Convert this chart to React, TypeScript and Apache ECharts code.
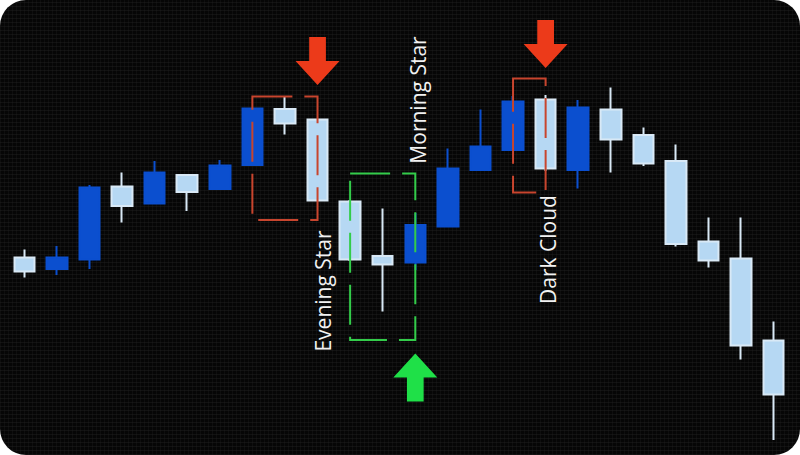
import React, { useEffect, useRef } from "react";
import * as echarts from "echarts";

// ---- Data ----
const categories = [
  "1", "2", "3", "4", "5", "6", "7", "8", "9", "10", "11", "12",
  "13", "14", "15", "16", "17", "18", "19", "20", "21", "22", "23", "24",
];
const opens = [139.5, 137.2, 139.1, 153.7, 150.3, 156.0, 153.2, 158.0, 169.2, 167.1, 150.7, 139.8,
  138.5, 145.7, 157.0, 161.0, 171.1, 157.0, 169.1, 164.0, 158.8, 142.7, 139.3, 122.9];
const closes = [136.7, 139.5, 153.5, 149.8, 156.5, 152.6, 157.9, 169.3, 166.3, 150.9, 139.1, 138.1,
  146.0, 157.3, 161.7, 170.7, 157.3, 169.5, 163.1, 158.3, 142.2, 138.9, 121.9, 112.1];
const lows = [135.5, 136.0, 137.2, 146.5, 150.3, 148.8, 153.2, 157.8, 164.1, 150.7, 138.8, 128.7,
  137.0, 145.5, 157.0, 160.8, 156.8, 153.3, 156.5, 157.8, 141.7, 137.5, 119.1, 103.0];
const highs = [141.1, 141.8, 154.0, 156.5, 158.8, 156.0, 159.0, 169.5, 171.7, 167.3, 151.0, 149.3,
  148.4, 161.3, 169.1, 171.8, 172.0, 171.0, 173.5, 165.5, 162.1, 147.5, 147.5, 126.7];

// Pattern boxes: [from category index, to category index, top price, bottom price]
const boxFrom = [7, 10, 15];
const boxTo = [9, 12, 16];
const boxTop = [171.7, 156.3, 175.3];
const boxBottom = [147.0, 123.0, 152.5];
const boxKind = ["bear", "bull", "bear"];

// Arrows: category index, centre price, direction
const arrowCat = [9, 12, 16];
const arrowPrice = [178.8, 115.5, 182.2];
const arrowDir = ["down", "up", "down"];

// Pattern names
const labelTexts = ["Evening Star", "Morning Star", "Dark Cloud"];
const labelCat = [9, 12, 16];
const labelPrice = [132.8, 171.0, 141.1];

const Y_MIN = 100;
const Y_MAX = 191;

export default function App() {
  const ref = useRef<HTMLDivElement>(null);

  useEffect(() => {
    if (!ref.current) return;
    const chart = echarts.init(ref.current, undefined, { renderer: "svg" });

    const candleData = categories.map((_, i) => [opens[i], closes[i], lows[i], highs[i]]);
    const boxData = boxFrom.map((f, i) => [f, boxTo[i], boxTop[i], boxBottom[i]]);
    const arrowData = arrowCat.map((c, i) => [c, arrowPrice[i]]);
    const labelData = labelCat.map((c, i) => [c, labelPrice[i]]);

    const downPath = "M31,0 L69,0 L69,50 L100,50 L50,100 L0,50 L31,50 Z";
    const upPath = "M50,0 L100,50 L69,50 L69,100 L31,100 L31,50 L0,50 Z";
    const labelDx = [5, 3, 2];

    chart.setOption({
      animation: false,
      backgroundColor: "transparent",
      grid: { left: 8, right: 10, top: 0, bottom: 0 },
      xAxis: {
        type: "category",
        data: categories,
        show: false,
        boundaryGap: true,
      },
      yAxis: {
        type: "value",
        min: Y_MIN,
        max: Y_MAX,
        show: false,
        splitLine: { show: false },
      },
      series: [
        {
          type: "candlestick",
          data: candleData,
          barWidth: 21,
          z: 2,
          itemStyle: {
            color: "#0b4fcf",
            borderColor: "#0b4fcf",
            color0: "#b6d8f3",
            borderColor0: "#d9e9f6",
            borderWidth: 2,
          },
        },
        {
          type: "custom",
          z: 5,
          clip: false,
          data: boxData,
          encode: { x: [0, 1], y: [2, 3] },
          renderItem: (params: any, api: any) => {
            const p1 = api.coord([api.value(0), api.value(2)]);
            const p2 = api.coord([api.value(1), api.value(3)]);
            const bull = boxKind[params.dataIndex] === "bull";
            return {
              type: "rect",
              shape: { x: p1[0], y: p1[1], width: p2[0] - p1[0], height: p2[1] - p1[1] },
              style: {
                fill: "none",
                stroke: bull ? "#33cc4a" : "#c8452e",
                lineWidth: 2,
                lineDash: [40, 12],
              },
            };
          },
        },
        {
          type: "custom",
          z: 6,
          clip: false,
          data: arrowData,
          encode: { x: 0, y: 1 },
          renderItem: (params: any, api: any) => {
            const c = api.coord([api.value(0), api.value(1)]);
            const up = arrowDir[params.dataIndex] === "up";
            const w = 44;
            const h = 48;
            return {
              type: "path",
              shape: {
                pathData: up ? upPath : downPath,
                x: c[0] - w / 2,
                y: c[1] - h / 2,
                width: w,
                height: h,
                layout: "cover",
              },
              style: { fill: up ? "#1fe048" : "#ec3a1a" },
            };
          },
        },
        {
          type: "custom",
          z: 7,
          clip: false,
          data: labelData,
          encode: { x: 0, y: 1 },
          renderItem: (params: any, api: any) => {
            const c = api.coord([api.value(0), api.value(1)]);
            return {
              type: "text",
              x: c[0] + labelDx[params.dataIndex],
              y: c[1],
              rotation: Math.PI / 2,
              style: {
                text: labelTexts[params.dataIndex],
                fill: "#f2f2f2",
                font: '21px "Open Sans", "DejaVu Sans", sans-serif',
                align: "center",
                verticalAlign: "middle",
              },
            };
          },
        },
      ],
    });

    return () => chart.dispose();
  }, []);

  return (
    <div
      style={{
        position: "fixed",
        left: 0,
        top: 0,
        width: 800,
        height: 455,
        background: "#ffffff",
      }}
    >
      <div
        style={{
          position: "absolute",
          left: 0,
          top: 0,
          width: 800,
          height: 455,
          borderRadius: 26,
          overflow: "hidden",
          backgroundColor: "#060606",
          backgroundImage:
            "repeating-linear-gradient(0deg, rgba(40,40,40,0.35) 0px, rgba(40,40,40,0.35) 1px, transparent 1px, transparent 4px), repeating-linear-gradient(90deg, rgba(40,40,40,0.25) 0px, rgba(40,40,40,0.25) 1px, transparent 1px, transparent 4px)",
        }}
      >
        <div ref={ref} style={{ width: 800, height: 455 }} />
      </div>
    </div>
  );
}
